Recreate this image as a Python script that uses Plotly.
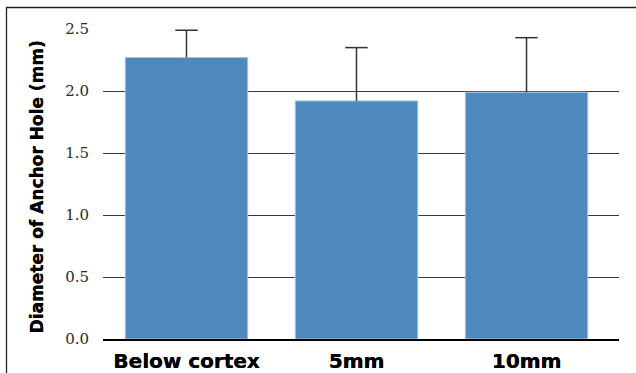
import plotly.graph_objects as go

categories = ["Below cortex", "5mm", "10mm"]
means = [2.27, 1.92, 1.99]
errors = [0.22, 0.43, 0.44]
y_ticks = [0.0, 0.5, 1.0, 1.5, 2.0, 2.5]
y_tick_labels = ["0.0", "0.5", "1.0", "1.5", "2.0", "2.5"]
y_title = "Diameter of Anchor Hole (mm)"

W, H = 636, 373
ml, mr, mt, mb = 103, 17, 29, 34
pw, ph = W - ml - mr, H - mt - mb

heavy = "0.3px 0 0 black"
err_color = "#333333"

upper = [m + e for m, e in zip(means, errors)]

fig = go.Figure()
fig.add_trace(go.Bar(
    x=categories, y=means,
    marker=dict(color="#4D89BD", line=dict(color="#A7C3DF", width=1)),
    width=0.72,
    error_y=dict(type="data", array=errors, symmetric=False, arrayminus=[0, 0, 0],
                 color=err_color, thickness=1.5, width=0),
    hoverinfo="skip",
))
# upper caps only (the reference has no cap at the bar top)
fig.add_trace(go.Scatter(
    x=categories, y=upper, mode="markers",
    marker=dict(symbol="line-ew-open", size=16, color=err_color,
                line=dict(color=err_color, width=1.5)),
    hoverinfo="skip", cliponaxis=False,
))

def px_x(v):
    return (v - ml) / pw

def px_y(v):
    return (H - mb - v) / ph

fig.update_layout(
    width=W, height=H,
    margin=dict(l=ml, r=mr, t=mt, b=mb, pad=0),
    paper_bgcolor="white", plot_bgcolor="white",
    showlegend=False,
    xaxis=dict(
        automargin=False, range=[-0.491, 2.544],
        showgrid=False, showline=True, linecolor="black", linewidth=1.5,
        ticks="", ticklabelstandoff=3,
        tickfont=dict(family="DejaVu Sans", size=20, color="black", weight="bold", shadow=heavy),
    ),
    yaxis=dict(
        automargin=False,
        range=[0, 2.5], tickvals=y_ticks, ticktext=y_tick_labels,
        showgrid=True, gridcolor="#3a3a3a", gridwidth=1.4,
        zeroline=False, showline=False, ticks="", ticklabelstandoff=13,
        tickfont=dict(family="DejaVu Serif", size=15, color="#2a2a2a"),
    ),
    annotations=[dict(text=y_title, xref="paper", yref="paper",
                      x=px_x(37), y=px_y(187.5), textangle=-90, showarrow=False,
                      xanchor="center", yanchor="middle",
                      font=dict(family="DejaVu Sans", size=17, color="black", weight="bold", shadow=heavy))],
    shapes=[dict(type="rect", xref="paper", yref="paper",
                 x0=px_x(6.5), x1=px_x(660), y0=px_y(400), y1=px_y(7.5),
                 line=dict(color="#222222", width=1.3), fillcolor="rgba(0,0,0,0)", layer="above")],
)

fig.write_html("out.html", config={"displayModeBar": False},
               post_script="document.body.style.margin='0';document.body.style.overflow='hidden';")
